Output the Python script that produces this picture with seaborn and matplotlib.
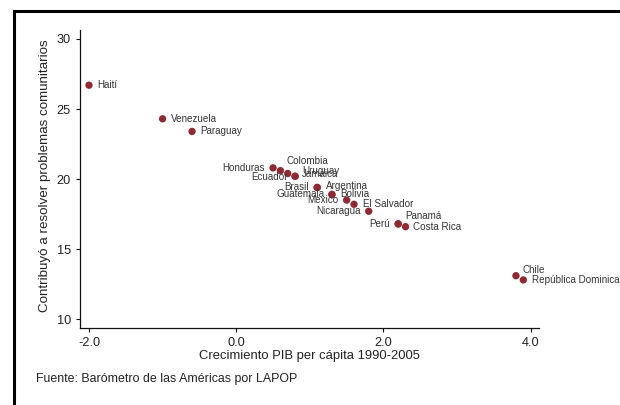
import matplotlib
matplotlib.use("Agg")
import matplotlib.pyplot as plt
from matplotlib.patches import Rectangle
import seaborn as sns
import pandas as pd

# ---- data ----
countries = ["Haití", "Venezuela", "Paraguay", "Honduras", "Colombia", "Uruguay",
             "Jamaica", "Ecuador", "Brasil", "Argentina", "Guatemala", "Bolivia",
             "Mexico", "El Salvador", "Nicaragua", "Perú", "Panamá", "Costa Rica",
             "Chile", "República Dominicana"]
pib_growth = [-2.0, -1.0, -0.6, 0.5, 0.6, 0.7,
              0.8, 0.8, 1.1, 1.1, 1.3, 1.3,
              1.5, 1.6, 1.8, 2.2, 2.2, 2.3,
              3.8, 3.9]
contribuyo = [26.7, 24.3, 23.4, 20.8, 20.6, 20.4,
              20.2, 20.2, 19.4, 19.4, 18.9, 18.9,
              18.5, 18.2, 17.7, 16.8, 16.8, 16.6,
              13.1, 12.8]
x_ticks = [-2.0, 0.0, 2.0, 4.0]
x_tick_labels = ["-2.0", "0.0", "2.0", "4.0"]
y_ticks = [10, 15, 20, 25, 30]

x_title = "Crecimiento PIB per cápita 1990-2005"
y_title = "Contribuyó a resolver problemas comunitarios"
source_note = "Fuente: Barómetro de las Américas por LAPOP"

# label placement (pixel offsets from marker: dx, dy(down), alignment)
label_pos = {
    "Haití": (8.7, 0, "left"), "Venezuela": (8.7, 0, "left"), "Paraguay": (8, 0, "left"),
    "Honduras": (-8, 0, "right"), "Colombia": (5.7, -9.5, "left"),
    "Uruguay": (14.3, -2.5, "left"), "Jamaica": (6.3, -2.4, "left"),
    "Ecuador": (-7.7, 0.5, "right"), "Brasil": (-8, -0.5, "right"),
    "Argentina": (8.7, -1.5, "left"), "Guatemala": (-7.7, 0, "right"),
    "Bolivia": (8.5, -0.5, "left"), "Mexico": (-8, 0, "right"),
    "El Salvador": (8.7, 0, "left"), "Nicaragua": (-8.3, 0, "right"),
    "Perú": (-8.3, 0.5, "right"), "Panamá": (7, -7.5, "left"),
    "Costa Rica": (7.5, 0.5, "left"), "Chile": (7, -6, "left"),
    "República Dominicana": (8.4, 0.3, "left"),
}

df = pd.DataFrame({"pais": countries, "pib": pib_growth, "val": contribuyo})

sns.set_theme(style="white")
plt.rcParams["font.family"] = ["Liberation Sans", "DejaVu Sans"]

W, H = 620, 405
fig = plt.figure(figsize=(W / 100, H / 100), dpi=100)
fig.patch.set_facecolor("white")
ax_l, ax_r, ax_t, ax_b = 80, 539.3, 30, 327.7
ax = fig.add_axes([ax_l / W, 1 - ax_b / H, (ax_r - ax_l) / W, (ax_b - ax_t) / H])

sns.scatterplot(data=df, x="pib", y="val", ax=ax, color="#8E2A33", s=28,
                edgecolor="none", linewidth=0, legend=False, zorder=3)

for name, xv, yv in zip(countries, pib_growth, contribuyo):
    dx, dy, ha = label_pos[name]
    ax.annotate(name, (xv, yv), xytext=(dx * 0.72, -dy * 0.72),
                textcoords="offset points", ha=ha, va="center",
                fontsize=7.1, color="#333333", zorder=4)

ax.set_xlim(-2.122, 4.117)
ax.set_ylim(9.39, 30.64)
ax.set_xticks(x_ticks)
ax.set_xticklabels(x_tick_labels)
ax.set_yticks(y_ticks)
ax.set_yticklabels([str(t) for t in y_ticks])

for s in ["top", "right"]:
    ax.spines[s].set_visible(False)
for s in ["left", "bottom"]:
    ax.spines[s].set_color("#111111")
    ax.spines[s].set_linewidth(0.9)

ax.tick_params(axis="both", which="major", direction="out", length=3,
               width=0.8, color="#111111", labelsize=9.2, labelcolor="#222222",
               pad=3.5, bottom=True, left=True)

ax.set_xlabel(x_title, fontsize=9.4, color="#222222")
ax.set_ylabel(y_title, fontsize=9.6, color="#222222")
ax.xaxis.set_label_coords(0.5, (ax_b - 350) / (ax_b - ax_t))
ax.yaxis.set_label_coords((51 - ax_l) / (ax_r - ax_l), 0.51)

fig.text(36 / W, 1 - 379 / H, source_note, fontsize=8.9, color="#222222",
         ha="left", va="center")

# outer frame (left and top edges visible)
fig.add_artist(Rectangle((14.3 / W, -0.5), 2.0, (H - 11.3) / H + 0.5,
                         transform=fig.transFigure, fill=False,
                         edgecolor="black", linewidth=2.2))

fig.savefig("out.png", dpi=100)
